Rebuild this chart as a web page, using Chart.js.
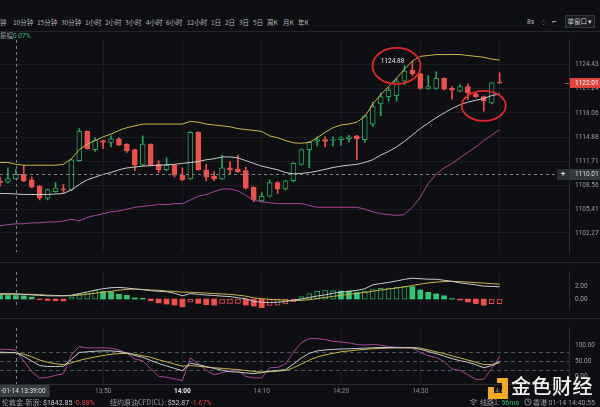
<!DOCTYPE html>
<html lang="zh">
<head>
<meta charset="utf-8">
<title>K线</title>
<script src="https://cdn.jsdelivr.net/npm/chart.js@4.4.1/dist/chart.umd.min.js"></script>
<style>
  html, body { margin: 0; padding: 0; background: #0e0f12; }
  #wrap { position: relative; width: 600px; height: 407px; overflow: hidden; background: #0e0f12;
          font-family: "Noto Sans CJK SC", "Noto Sans", sans-serif; color: #9b9ea5; }
  canvas { position: absolute; left: 0; }
  .t { position: absolute; white-space: nowrap; font-size: 6.5px; line-height: 8px; }
  .hl { position: absolute; left: 0; width: 600px; height: 1px; background: #24262b; }
  .num { font-family: Roboto, "Noto Sans", sans-serif; }
  #win { position: absolute; left: 565px; top: 15px; width: 30px; height: 13px; border: 1px solid #34373d;
         background: #1a1c20; box-sizing: border-box; color: #c9cbd0; font-size: 6.5px; line-height: 11px; text-align: center; }
  #logo { position: absolute; left: 488px; top: 378px; }
  #logoText { position: absolute; left: 511px; top: 374px; font-size: 20px; line-height: 24px; color: #f3f3f3;
              letter-spacing: 0.5px; font-weight: 500; }
</style>
</head>
<body>
<div id="wrap">
  <div id="tabs"></div>
  <span class="t num" style="left:527px;top:18px;color:#b9bbc0">8s</span>
  <span class="t" style="left:541px;top:18px;color:#b9bbc0">⁘</span>
  <span class="t" style="left:552px;top:17px;color:#b9bbc0;font-size:8px">⌐</span>
  <div id="win">单窗口 ▾</div>
  <div class="hl" style="top:31px"></div>

  <canvas id="price" width="600" height="232" style="top:30px"></canvas>
  <canvas id="macd" width="600" height="56" style="top:262px"></canvas>
  <canvas id="kdj" width="600" height="80" style="top:318px"></canvas>
  <div class="hl" style="top:262px"></div>
  <div class="hl" style="top:318px"></div>

  <span class="t" style="left:0;top:31px">振幅<span class="num" style="color:#2fbf6e">0.07%</span></span>

  <span class="t" style="left:2px;top:398px;font-size:7px">伦敦金-新浪: <span class="num" style="color:#c9cbd0">$1842.85</span> <span class="num" style="color:#e5423d">-0.88%</span></span>
  <span class="t" style="left:110px;top:398px;font-size:7px">纽约原油CFD(CL): <span class="num" style="color:#c9cbd0">$52.87</span> <span class="num" style="color:#e5423d">-1.67%</span></span>
  <svg style="position:absolute;left:469px;top:398px" width="9" height="8" viewBox="0 0 9 8">
    <path d="M1 3 Q4.5 0 8 3 M2.5 4.5 Q4.5 3 6.5 4.5" stroke="#9b9ea5" fill="none" stroke-width="0.9"/>
    <circle cx="4.5" cy="6.3" r="0.9" fill="#9b9ea5"/>
  </svg>
  <span class="t" style="left:480px;top:398px;font-size:7px">线路1: <span class="num" style="color:#2fbf6e">56ms</span></span>
  <svg style="position:absolute;left:524px;top:398px" width="8" height="8" viewBox="0 0 8 8">
    <circle cx="4" cy="4" r="3.2" stroke="#9b9ea5" fill="none" stroke-width="0.8"/>
    <path d="M4 2 V4 H5.6" stroke="#9b9ea5" fill="none" stroke-width="0.8"/>
  </svg>
  <span class="t" style="left:533px;top:398px;font-size:7px">香港 <span class="num">01-14 14:40:55</span></span>

  <svg id="logo" width="20" height="21" viewBox="0 0 20 21">
    <rect x="9" y="0" width="5" height="5" fill="#f2a91d"/>
    <rect x="14" y="0" width="6" height="21" fill="#f2a91d"/>
    <rect x="0" y="15" width="20" height="6" fill="#f2a91d"/>
    <rect x="0" y="9" width="6" height="12" fill="#f2a91d"/>
  </svg>
  <div id="logoText">金色财经</div>
</div>

<script>
// ---- chart values ----
const times = ['13:37','13:38','13:39','13:40','13:41','13:42','13:43','13:44','13:45','13:46',
               '13:47','13:48','13:49','13:50','13:51','13:52','13:53','13:54','13:55','13:56',
               '13:57','13:58','13:59','14:00','14:01','14:02','14:03','14:04','14:05','14:06',
               '14:07','14:08','14:09','14:10','14:11','14:12','14:13','14:14','14:15','14:16',
               '14:17','14:18','14:19','14:20','14:21','14:22','14:23','14:24','14:25','14:26',
               '14:27','14:28','14:29','14:30','14:31','14:32','14:33','14:34','14:35','14:36',
               '14:37','14:38','14:39','14:40'];

const opens = [1109.13,1108.95,1109.38,1109.98,1109.25,1108.41,1106.85,1107.69,1108.05,1107.93,
               1111.78,1115.64,1113.23,1114.43,1114.19,1114.67,1113.95,1113.23,1111.18,1113.95,
               1111.30,1110.58,1111.18,1109.86,1109.38,1115.52,1110.58,1109.74,1109.38,1110.82,
               1110.70,1110.46,1108.29,1106.48,1107.09,1108.89,1108.05,1109.13,1111.30,1113.23,
               1114.31,1114.55,1114.43,1114.55,1114.67,1115.04,1114.55,1116.60,1119.25,1120.21,
               1120.34,1122.26,1123.71,1123.23,1121.30,1121.30,1122.62,1121.30,1120.94,1121.54,
               1120.58,1120.21,1119.37,1122.10];
const highs = [1109.62,1110.82,1110.60,1111.18,1109.62,1108.50,1108.05,1108.89,1108.65,1111.95,
               1116.00,1115.70,1114.80,1114.50,1115.04,1114.80,1114.00,1113.30,1115.04,1114.00,
               1111.78,1112.15,1111.30,1110.82,1115.60,1115.60,1111.30,1110.34,1112.51,1111.66,
               1112.51,1110.94,1108.35,1107.57,1109.25,1109.00,1109.20,1111.50,1113.30,1114.30,
               1114.92,1114.92,1114.92,1114.95,1115.10,1115.10,1117.80,1119.49,1120.70,1121.42,
               1122.62,1124.31,1124.88,1123.30,1122.99,1123.47,1122.70,1121.54,1121.80,1121.90,
               1120.82,1120.30,1122.10,1123.35];
const lows = [1108.41,1108.80,1109.30,1109.00,1108.20,1106.61,1106.61,1107.60,1107.57,1107.81,
              1111.70,1113.30,1112.99,1113.35,1113.59,1113.80,1112.87,1110.46,1111.10,1111.10,
              1110.22,1110.46,1109.62,1109.13,1109.30,1110.50,1109.13,1109.13,1109.30,1109.98,
              1110.22,1108.05,1106.36,1106.40,1107.00,1107.45,1107.90,1109.00,1111.20,1110.82,
              1113.71,1113.59,1113.71,1113.83,1114.20,1111.90,1114.19,1116.30,1117.69,1119.61,
              1119.61,1121.78,1122.99,1121.20,1121.18,1121.20,1121.10,1119.85,1120.82,1119.85,
              1120.10,1118.29,1119.25,1121.95];
const closes = [1108.89,1109.41,1109.98,1109.13,1108.29,1106.85,1107.93,1108.17,1107.93,1111.90,
                1115.64,1113.35,1114.43,1114.19,1114.67,1113.83,1113.11,1111.18,1113.95,1111.18,
                1110.58,1111.18,1109.86,1109.25,1115.52,1110.58,1109.62,1109.38,1110.82,1110.58,
                1110.34,1108.17,1106.61,1107.09,1108.89,1108.05,1109.13,1111.42,1113.23,1114.19,
                1114.55,1114.31,1114.55,1114.80,1114.92,1114.67,1117.69,1118.89,1120.21,1121.06,
                1122.26,1123.59,1123.23,1121.30,1121.54,1122.62,1121.18,1121.06,1121.54,1120.70,
                1120.21,1119.61,1122.02,1122.01];

const bollUpper = [1111.54,1111.54,1111.30,1111.18,1111.18,1111.18,1111.18,1111.18,1111.30,1112.03,
                   1113.23,1113.95,1114.43,1114.92,1115.28,1115.76,1116.12,1116.36,1116.60,1116.60,
                   1116.60,1116.60,1116.60,1116.60,1116.96,1116.84,1116.60,1116.48,1116.36,1116.24,
                   1116.00,1115.88,1115.76,1115.64,1115.04,1114.80,1114.43,1114.13,1114.07,1114.19,
                   1114.80,1115.52,1116.12,1116.48,1116.60,1116.84,1117.57,1119.25,1120.46,1121.54,
                   1122.62,1123.83,1124.91,1125.51,1125.63,1125.75,1125.75,1125.75,1125.75,1125.63,
                   1125.51,1125.39,1125.15,1125.03];
const bollMid = [1107.45,1107.45,1107.39,1107.33,1107.33,1107.33,1107.33,1107.39,1107.45,1107.93,
                 1108.65,1109.25,1109.62,1109.98,1110.22,1110.58,1110.82,1110.94,1111.06,1111.12,
                 1111.18,1111.24,1111.30,1111.42,1111.54,1111.66,1111.90,1112.03,1112.27,1112.27,
                 1112.15,1111.78,1111.42,1111.06,1110.82,1110.58,1110.22,1110.04,1110.10,1110.22,
                 1110.40,1110.64,1110.88,1111.06,1111.18,1111.30,1111.54,1111.90,1112.51,1112.99,
                 1113.59,1114.31,1115.16,1116.00,1116.72,1117.44,1118.05,1118.65,1119.13,1119.49,
                 1119.73,1119.97,1120.34,1120.58];
const bollLower = [1103.23,1103.35,1103.47,1103.47,1103.59,1103.59,1103.71,1103.71,1103.84,1104.08,
                   1103.84,1104.32,1104.56,1104.80,1105.04,1105.16,1105.40,1105.64,1105.76,1105.88,
                   1106.00,1106.00,1106.12,1106.12,1106.61,1107.09,1107.33,1107.69,1108.05,1108.05,
                   1107.81,1107.21,1106.61,1106.36,1106.24,1106.12,1106.12,1106.12,1106.12,1105.88,
                   1105.64,1105.64,1105.64,1105.64,1105.64,1105.64,1105.40,1105.04,1104.80,1104.68,
                   1104.56,1104.68,1105.64,1106.97,1108.77,1109.98,1110.82,1111.42,1112.15,1112.87,
                   1113.59,1114.43,1115.16,1115.88];

const macdHist = [0.60,0.55,0.54,0.50,0.30,-0.10,-0.20,-0.25,-0.30,0.30,
                  0.73,0.97,1.33,1.17,1.15,0.73,0.57,0.17,0.12,-0.27,
                  -0.60,-0.77,-0.93,-1.20,-0.47,-0.67,-0.87,-0.93,-0.67,-0.67,
                  -0.67,-0.93,-1.10,-1.33,-1.00,-0.93,-0.77,-0.43,0.40,0.83,
                  1.20,1.30,1.30,1.23,1.22,1.00,1.23,1.45,1.65,1.70,
                  1.80,1.95,1.92,1.40,1.05,0.80,0.50,0.07,-0.15,-0.45,
                  -0.70,-0.95,-0.70,-0.70];
const macdDif = [0.83,0.82,0.80,0.72,0.64,0.57,0.50,0.50,0.50,0.60,
                 0.85,1.10,1.38,1.60,1.75,1.80,1.70,1.55,1.45,1.30,
                 1.20,1.13,0.90,0.50,0.85,0.72,0.63,0.55,0.45,0.38,
                 0.20,0.05,-0.37,-0.50,-0.53,-0.48,-0.40,-0.15,0.00,0.25,
                 0.47,0.65,0.90,1.05,1.20,1.33,1.60,2.20,2.40,2.57,
                 2.80,3.05,3.23,3.15,3.07,3.07,2.90,2.75,2.50,2.35,
                 2.20,2.00,1.95,1.90];
const macdDea = [0.73,0.74,0.74,0.74,0.73,0.68,0.60,0.55,0.52,0.50,
                 0.60,0.75,0.90,1.05,1.20,1.38,1.50,1.55,1.48,1.40,
                 1.35,1.25,1.18,1.07,1.05,1.00,0.92,0.85,0.78,0.72,
                 0.60,0.45,0.20,0.05,-0.05,-0.10,-0.18,-0.25,-0.20,-0.10,
                 0.08,0.25,0.42,0.57,0.72,0.88,1.02,1.20,1.40,1.55,
                 1.70,1.88,2.10,2.30,2.50,2.62,2.70,2.73,2.70,2.63,
                 2.55,2.47,2.38,2.30];

const kdjK = [79,78,77,65,50,35,32,32,33,55,
              78,80,82,83,83,81,76,68,62,52,
              42,34,26,18,43,38,32,26,20,15,
              14,11,9,12,17,19,22,40,60,75,
              83,86,88,89,90,91,92,93,94,94,
              93.5,93,93,88,81,74,66,58,51,46,
              38,28,35,49];
const kdjD = [77,77,77,72,64,53,46,41,38,44,
              52,58,63,68,72,74,75,72,67,62,
              54,47,40,33,35,33,30,28,26,24,
              22,19,16,14,15,17,19,28,40,53,
              63,70,75,80,83,86,88,90,91,92,
              93,93.5,94,92,86,80,74,67,60,53,
              46,38,39,44];
const kdjJ = [88,88,85,50,15,-6,-3,3,9,70,
              97,93,93,93,92,86,75,56,51,25,
              0,-3,-8,-14,60,40,20,5,12,18,
              18,0,-5,-5,28,29,40,79,110,123,
              123,120,114,112,109,104,102,104,102,97,
              95,94,92,78,67,62,48,24,20,5,
              -10,-10,25,65];

const priceTicks = [1102.27, 1105.41, 1108.56, 1111.71, 1114.88, 1118.06, 1121.24, 1124.43];
const macdTicks = [0, 2];
const kdjTicks = [0, 50, 100];
const kdjLevels = [20, 50, 80];
const timeTicks = ['13:50', '14:00', '14:10', '14:20', '14:30', '14:40'];

const lastPrice = 1122.01;
const crossTime = '13:39';
const crossPrice = 1110.01;
const crossLabel = '2021-01-14 13:39:00';
const circled = [['14:27', 1124.25], ['14:38', 1119.0]];

// ---- styles ----
const BG = '#0e0f12';
const RED = '#ef504c';
const GREEN = '#28a45e';
const GREEN_FILL = '#2fc774';
const GRID = '#1b1d22';
const AXIS = '#2a2c32';
const LABEL = '#9b9ea5';
const WHITE_LINE = '#c8c9cc';
const YELLOW_LINE = '#c9b746';
const PURPLE_LINE = '#a8449a';
const circleSize = [[24, 18], [22, 15]];

Chart.defaults.font.family = 'Roboto, "Noto Sans", sans-serif';
Chart.defaults.font.size = 6.5;
Chart.defaults.color = LABEL;

// toolbar
const tabNames = ['1分钟','10分钟','15分钟','30分钟','1小时','2小时','3小时','4小时','6小时','12小时',
                  '1日','2日','3日','5日','周K','月K','年K'];
const tabLeft = [-10, 13, 37, 61, 85, 105, 125, 146, 166, 187, 211, 225, 239, 253, 267, 283, 298];
const tabs = document.getElementById('tabs');
tabNames.forEach((n, i) => {
  const s = document.createElement('span');
  s.className = 't';
  s.style.left = tabLeft[i] + 'px';
  s.style.top = '18px';
  s.style.color = '#b4b6bb';
  s.textContent = n;
  tabs.appendChild(s);
});

const toMin = t => { const [h, m] = t.split(':').map(Number); return (h - 13) * 60 + m; };
const xs = times.map(toMin);
const series = arr => arr.map((v, i) => ({ x: xs[i], y: v }));
const isUp = closes.map((c, i) => c >= opens[i]);

const xMin = 37, xMax = 108.75;

function xAxis(showLabels) {
  return {
    type: 'linear', min: xMin, max: xMax, offset: false,
    afterBuildTicks: s => { s.ticks = timeTicks.map(t => ({ value: toMin(t) })); },
    afterFit: s => { s.height = showLabels ? 14 : 0; },
    grid: { color: GRID, drawTicks: false, offset: false },
    border: { display: showLabels, color: AXIS },
    ticks: {
      display: showLabels, padding: 3, maxRotation: 0, autoSkip: false,
      color: c => (c.tick && c.tick.value === 60 ? '#e4e6ea' : '#8d9097'),
      font: c => ({ size: 6.5, weight: c.tick && c.tick.value === 60 ? 'bold' : 'normal' }),
      callback: v => timeTicks.find(t => toMin(t) === v) || ''
    }
  };
}

function yAxis(min, max, ticks, showGrid) {
  return {
    position: 'right', min, max,
    afterBuildTicks: s => { s.ticks = ticks.map(v => ({ value: v })); },
    afterFit: s => { s.width = 31; },
    grid: { display: showGrid, color: GRID, drawTicks: false },
    border: { display: true, color: AXIS },
    ticks: { padding: 6, color: LABEL, callback: v => v.toFixed(2) }
  };
}

const baseOptions = {
  responsive: false,
  animation: false,
  events: [],
  devicePixelRatio: 1,
  layout: { padding: 0, autoPadding: false },
  plugins: { legend: { display: false }, tooltip: { enabled: false } }
};

const crossLine = {
  id: 'crossLine',
  afterDatasetsDraw(chart) {
    const { ctx, chartArea: a, scales: { x } } = chart;
    const cx = Math.round(x.getPixelForValue(toMin(crossTime))) + 0.5;
    ctx.save();
    ctx.strokeStyle = '#7d8087';
    ctx.lineWidth = 1;
    ctx.setLineDash([3, 3]);
    ctx.beginPath();
    ctx.moveTo(cx, a.top);
    ctx.lineTo(cx, a.bottom);
    ctx.stroke();
    ctx.restore();
  }
};

// price chart extras: crosshair price, max label, circles, price tags
const priceOverlay = {
  id: 'priceOverlay',
  afterDraw(chart) {
    const { ctx, chartArea: a, scales: { x, y } } = chart;
    const W = chart.width;
    ctx.save();
    const cy = Math.round(y.getPixelForValue(crossPrice)) + 0.5;
    ctx.strokeStyle = '#7d8087';
    ctx.lineWidth = 1;
    ctx.setLineDash([3, 3]);
    ctx.beginPath();
    ctx.moveTo(a.left, cy);
    ctx.lineTo(a.right - 12, cy);
    ctx.stroke();
    ctx.setLineDash([]);

    // highest high
    let hi = 0;
    highs.forEach((h, i) => { if (h > highs[hi]) hi = i; });
    ctx.font = '6.5px Roboto';
    ctx.textBaseline = 'middle';
    ctx.textAlign = 'right';
    ctx.fillStyle = '#e6e7ea';
    ctx.fillText(highs[hi].toFixed(2), x.getPixelForValue(xs[hi]) - 8, y.getPixelForValue(highs[hi]));

    // red hand-drawn circles
    ctx.strokeStyle = '#e3262a';
    ctx.lineWidth = 1.8;
    circled.forEach(([t, p], i) => {
      ctx.beginPath();
      ctx.ellipse(x.getPixelForValue(toMin(t)), y.getPixelForValue(p), circleSize[i][0], circleSize[i][1], 0, 0, Math.PI * 2);
      ctx.stroke();
    });

    // last price tag
    const ly = y.getPixelForValue(lastPrice);
    ctx.fillStyle = '#df433e';
    ctx.fillRect(a.right + 1, ly - 5, W - a.right - 1, 10);
    ctx.fillRect(a.right - 4, Math.round(ly), 4, 1);
    ctx.fillStyle = '#ffffff';
    ctx.textAlign = 'left';
    ctx.fillText(lastPrice.toFixed(2), a.right + 6, ly);

    // crosshair price tag
    ctx.fillStyle = '#34373d';
    ctx.fillRect(a.right + 1, cy - 5.5, W - a.right - 1, 11);
    ctx.fillStyle = '#2a2d32';
    ctx.fillRect(a.right - 12, cy - 5.5, 12, 11);
    ctx.fillStyle = '#dcdee2';
    ctx.fillText(crossPrice.toFixed(2), a.right + 6, cy);
    ctx.textAlign = 'center';
    ctx.font = '9px Roboto';
    ctx.fillText('+', a.right - 6, cy);
    ctx.restore();
  }
};

const kdjOverlay = {
  id: 'kdjOverlay',
  beforeDatasetsDraw(chart) {
    const { ctx, chartArea: a, scales: { y } } = chart;
    ctx.save();
    ctx.strokeStyle = '#4f535a';
    ctx.lineWidth = 1;
    ctx.setLineDash([4, 3]);
    kdjLevels.forEach(v => {
      const py = Math.round(y.getPixelForValue(v)) + 0.5;
      ctx.beginPath();
      ctx.moveTo(a.left, py);
      ctx.lineTo(a.right, py);
      ctx.stroke();
    });
    ctx.restore();
  },
  afterDraw(chart) {
    const { ctx, chartArea: a, scales: { x } } = chart;
    const cx = x.getPixelForValue(toMin(crossTime));
    ctx.save();
    ctx.font = '6.5px Roboto';
    const w = ctx.measureText(crossLabel).width + 8;
    ctx.fillStyle = '#393c43';
    ctx.fillRect(cx - w / 2, a.bottom + 1, w, 12);
    ctx.fillStyle = '#dcdee2';
    ctx.textAlign = 'center';
    ctx.textBaseline = 'middle';
    ctx.fillText(crossLabel, cx, a.bottom + 7.5);
    ctx.restore();
  }
};

// ---- price panel: candles + BOLL ----
new Chart(document.getElementById('price'), {
  type: 'bar',
  data: {
    datasets: [
      { type: 'line', data: series(bollUpper), borderColor: YELLOW_LINE, borderWidth: 1, pointRadius: 0, order: 0 },
      { type: 'line', data: series(bollMid), borderColor: WHITE_LINE, borderWidth: 1, pointRadius: 0, order: 0 },
      { type: 'line', data: series(bollLower), borderColor: PURPLE_LINE, borderWidth: 1, pointRadius: 0, order: 0 },
      {
        data: xs.map((v, i) => ({ x: v, y: [opens[i], closes[i]] })),
        order: 1, grouped: false, barThickness: 5, minBarLength: 1,
        backgroundColor: isUp.map(u => (u ? BG : RED)),
        borderColor: isUp.map(u => (u ? GREEN : RED)),
        borderWidth: 1, borderSkipped: false
      },
      {
        data: xs.map((v, i) => ({ x: v, y: [lows[i], highs[i]] })),
        order: 2, grouped: false, barThickness: 1,
        backgroundColor: isUp.map(u => (u ? GREEN : RED)),
        borderWidth: 0
      }
    ]
  },
  options: {
    ...baseOptions,
    scales: { x: xAxis(false), y: yAxis(1099.74, 1127.68, priceTicks, true) }
  },
  plugins: [crossLine, priceOverlay]
});

// ---- MACD panel ----
// green bars that grow and red bars that shrink are drawn hollow
const hollow = macdHist.map((v, i) => i > 0 && v >= macdHist[i - 1]);
new Chart(document.getElementById('macd'), {
  type: 'bar',
  data: {
    datasets: [
      { type: 'line', data: series(macdDif), borderColor: WHITE_LINE, borderWidth: 1, pointRadius: 0, order: 0 },
      { type: 'line', data: series(macdDea), borderColor: YELLOW_LINE, borderWidth: 1, pointRadius: 0, order: 0 },
      {
        data: series(macdHist),
        order: 1, grouped: false, barThickness: 5,
        backgroundColor: macdHist.map((v, i) => (hollow[i] ? BG : (v >= 0 ? GREEN_FILL : RED))),
        borderColor: macdHist.map(v => (v >= 0 ? GREEN : RED)),
        borderWidth: hollow.map(h => (h ? 1 : 0)),
        borderSkipped: false
      }
    ]
  },
  options: {
    ...baseOptions,
    scales: { x: xAxis(false), y: yAxis(-1.4, 4.2, macdTicks, false) }
  },
  plugins: [crossLine]
});

// ---- KDJ panel ----
new Chart(document.getElementById('kdj'), {
  type: 'line',
  data: {
    datasets: [
      { data: series(kdjK), borderColor: WHITE_LINE, borderWidth: 1, pointRadius: 0 },
      { data: series(kdjD), borderColor: YELLOW_LINE, borderWidth: 1, pointRadius: 0 },
      { data: series(kdjJ), borderColor: PURPLE_LINE, borderWidth: 1, pointRadius: 0 }
    ]
  },
  options: {
    ...baseOptions,
    scales: { x: xAxis(true), y: yAxis(-25, 158, kdjTicks, false) }
  },
  plugins: [crossLine, kdjOverlay]
});
</script>
</body>
</html>
